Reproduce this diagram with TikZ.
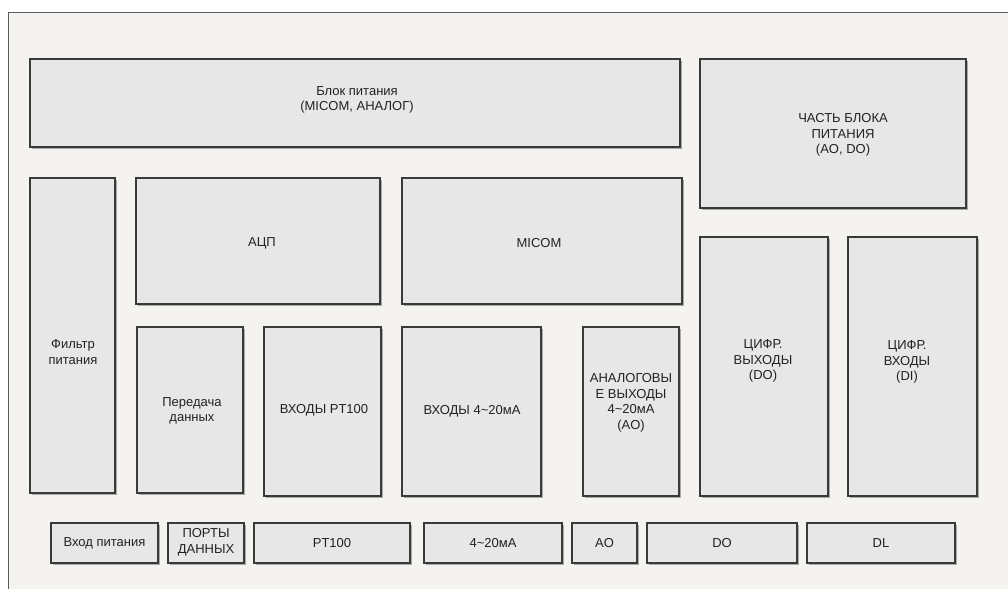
\documentclass[tikz,border=0pt]{standalone}
\usepackage{fontspec}
\setmainfont{Liberation Sans}
\usetikzlibrary{shadows}
\definecolor{bgc}{HTML}{F4F3F0}
\definecolor{boxc}{HTML}{E7E7E7}
\definecolor{edgec}{HTML}{3A3A3A}
\definecolor{framec}{HTML}{5A5A5A}
\definecolor{txtc}{HTML}{222222}
\tikzset{
  blk/.style={draw=edgec, fill=boxc, line width=1.1pt, inner sep=0pt, outer sep=0pt,
    drop shadow={shadow xshift=1.8pt, shadow yshift=-2.4pt, fill=black, opacity=0.3}},
  lbl/.style={text=txtc, align=center, inner sep=0pt, font=\fontsize{13}{15.5}\selectfont}
}
\newcommand\mkbox[5]{\node[blk, minimum width={(#4-#2)*1pt}, minimum height={(#5-#3)*1pt}] (#1) at ({(#2+#4)/2},{(#3+#5)/2}) {};}
\begin{document}
\begin{tikzpicture}[x=1pt,y=-1pt]
\useasboundingbox (0,0) rectangle (1008,589);
\fill[white] (0,0) rectangle (1008,589);
\fill[bgc] (8,12) rectangle (1008,589);
\draw[framec, line width=1pt] (8,589) -- (8,12) -- (1008,12);
% top row
\mkbox{psu}{30}{59}{680}{147}
\mkbox{part}{700}{59}{966}{208}
% middle
\mkbox{filt}{30}{178}{115}{493}
\mkbox{adc}{136}{178}{380}{304}
\mkbox{micom}{402}{178}{682}{304}
\mkbox{data}{137}{327}{243}{493}
\mkbox{pt}{264}{327}{381}{496}
\mkbox{ma}{402}{327}{541}{496}
\mkbox{ao}{583}{327}{679}{496}
\mkbox{dout}{700}{237}{828}{496}
\mkbox{din}{848}{237}{977}{496}
% bottom row
\mkbox{pin}{51}{523}{158}{563}
\mkbox{ports}{168}{523}{244}{563}
\mkbox{ptc}{254}{523}{410}{563}
\mkbox{mac}{424}{523}{562}{563}
\mkbox{aoc}{572}{523}{637}{563}
\mkbox{doc}{647}{523}{797}{563}
\mkbox{dlc}{807}{523}{955}{563}
% labels
\node[lbl] (psu-t) at (357,100) {Блок питания\\(MICOM, АНАЛОГ)};
\node[lbl] (part-t) at (843,135) {ЧАСТЬ БЛОКА\\ПИТАНИЯ\\(AO, DO)};
\node[lbl] (filt-t) at (73,352) {Фильтр\\питания};
\node[lbl] (adc-t) at (262,243) {АЦП};
\node[lbl] (micom-t) at (539,243) {MICOM};
\node[lbl] (data-t) at (192,411) {Передача\\данных};
\node[lbl] (pt-t) at (324,410) {ВХОДЫ PT100};
\node[lbl] (ma-t) at (472,411) {ВХОДЫ 4\textasciitilde20мА};
\node[lbl] (ao-t) at (631,403) {АНАЛОГОВЫ\\Е ВЫХОДЫ\\4\textasciitilde20мА\\(AO)};
\node[lbl] (dout-t) at (763,361) {ЦИФР.\\ВЫХОДЫ\\(DO)};
\node[lbl] (din-t) at (907,362) {ЦИФР.\\ВХОДЫ\\(DI)};
\node[lbl] (pin-t) at (pin.center) {Вход питания};
\node[lbl] (ports-t) at (206,542) {ПОРТЫ\\ДАННЫХ};
\node[lbl] (ptc-t) at (ptc.center) {PT100};
\node[lbl] (mac-t) at (mac.center) {4\textasciitilde20мА};
\node[lbl] (aoc-t) at (aoc.center) {AO};
\node[lbl] (doc-t) at (doc.center) {DO};
\node[lbl] (dlc-t) at (dlc.center) {DL};
\end{tikzpicture}
\end{document}
